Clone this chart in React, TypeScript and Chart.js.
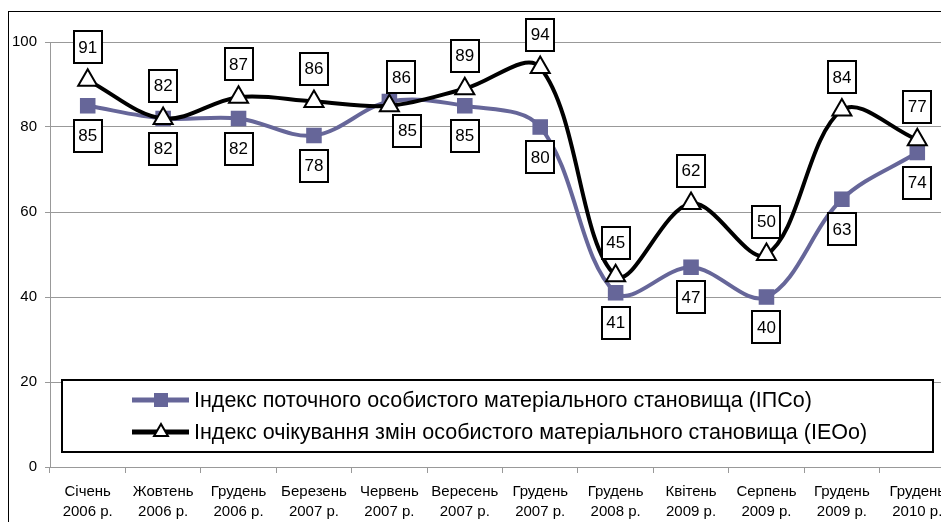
import React, { useEffect, useRef } from 'react';
import { Chart, registerables } from 'chart.js';

Chart.register(...registerables);

const categories: string[][] = [
  ['Січень', '2006 р.'],
  ['Жовтень', '2006 р.'],
  ['Грудень', '2006 р.'],
  ['Березень', '2007 р.'],
  ['Червень', '2007 р.'],
  ['Вересень', '2007 р.'],
  ['Грудень', '2007 р.'],
  ['Грудень', '2008 р.'],
  ['Квітень', '2009 р.'],
  ['Серпень', '2009 р.'],
  ['Грудень', '2009 р.'],
  ['Грудень', '2010 р.'],
];

const ipcoValues = [85, 82, 82, 78, 86, 85, 80, 41, 47, 40, 63, 74];
const ieooValues = [91, 82, 87, 86, 85, 89, 94, 45, 62, 50, 84, 77];

const yMin = 0;
const yMax = 100;
const yStep = 20;

const seriesNames = [
  'Індекс поточного особистого матеріального становища (ІПСо)',
  'Індекс очікування змін особистого матеріального становища (ІЕОо)',
];

const IPCO_COLOR = '#666699';
const IEOO_COLOR = '#000000';
const FONT = 'Arial, "Liberation Sans", sans-serif';

// label placement style (not data): which side of the point each value box sits on
const labelSides: string[][] = [
  ['b', 'b', 'b', 'b', 'a', 'b', 'b', 'b', 'b', 'b', 'b', 'b'],
  ['a', 'a', 'a', 'a', 'b', 'a', 'a', 'a', 'a', 'a', 'a', 'a'],
];
const labelNudge: Record<string, { dx: number; dy: number }> = {
  '0-4': { dx: 12, dy: -24.5 },
  '1-4': { dx: 18, dy: 25 },
};

const framePlugin = {
  id: 'frame',
  beforeDraw(chart: any) {
    const ctx = chart.ctx;
    ctx.save();
    ctx.fillStyle = '#ffffff';
    ctx.fillRect(0, 0, chart.width, chart.height);
    ctx.strokeStyle = '#000000';
    ctx.lineWidth = 1;
    ctx.strokeRect(0.5, 3.5, chart.width + 20, chart.height + 20);
    ctx.restore();
  },
};

const boxLabelPlugin = {
  id: 'boxLabels',
  afterDatasetsDraw(chart: any) {
    const ctx = chart.ctx;
    ctx.save();
    ctx.font = `17px ${FONT}`;
    ctx.textAlign = 'center';
    ctx.textBaseline = 'middle';
    chart.data.datasets.forEach((ds: any, di: number) => {
      const meta = chart.getDatasetMeta(di);
      meta.data.forEach((pt: any, i: number) => {
        const side = labelSides[di][i];
        let dx = 0;
        let dy = side === 'a' ? -33 : 30;
        const n = labelNudge[`${di}-${i}`];
        if (n) {
          dx = n.dx;
          dy = n.dy;
        }
        const x = pt.x + dx;
        const y = pt.y + dy;
        const text = String(ds.data[i]);
        const w = Math.round(ctx.measureText(text).width + 9);
        const h = 32;
        const lx = Math.round(x - w / 2);
        const ly = Math.round(y - h / 2);
        ctx.fillStyle = '#ffffff';
        ctx.fillRect(lx, ly, w, h);
        ctx.lineWidth = 2;
        ctx.strokeStyle = '#000000';
        ctx.strokeRect(lx, ly, w, h);
        ctx.fillStyle = '#000000';
        ctx.fillText(text, x, y + 1);
      });
    });
    ctx.restore();
  },
};

const legendPlugin = {
  id: 'boxLegend',
  afterDraw(chart: any) {
    const ctx = chart.ctx;
    ctx.save();
    const bx = 54;
    const by = 372;
    const bw = 871;
    const bh = 72;
    ctx.fillStyle = '#ffffff';
    ctx.fillRect(bx, by, bw, bh);
    ctx.lineWidth = 2;
    ctx.strokeStyle = '#000000';
    ctx.strokeRect(bx, by, bw, bh);

    const rows = [392, 424];
    const colors = [IPCO_COLOR, IEOO_COLOR];
    rows.forEach((ry, i) => {
      ctx.lineWidth = 5;
      ctx.strokeStyle = colors[i];
      ctx.beginPath();
      ctx.moveTo(124, ry);
      ctx.lineTo(181, ry);
      ctx.stroke();
      if (i === 0) {
        ctx.fillStyle = IPCO_COLOR;
        ctx.fillRect(146, ry - 7, 14, 14);
      } else {
        const r = 8;
        const cx = 153;
        const cy = ry;
        ctx.beginPath();
        ctx.moveTo(cx, cy - r);
        ctx.lineTo(cx + r * 0.866, cy + r * 0.5);
        ctx.lineTo(cx - r * 0.866, cy + r * 0.5);
        ctx.closePath();
        ctx.fillStyle = '#ffffff';
        ctx.fill();
        ctx.lineWidth = 2;
        ctx.strokeStyle = '#000000';
        ctx.stroke();
      }
      ctx.fillStyle = '#000000';
      ctx.font = `21.5px ${FONT}`;
      ctx.textAlign = 'left';
      ctx.textBaseline = 'middle';
      ctx.fillText(seriesNames[i], 186, ry + 1);
    });
    ctx.restore();
  },
};

export default function App() {
  const canvasRef = useRef<HTMLCanvasElement | null>(null);

  useEffect(() => {
    if (!canvasRef.current) return;
    const chart = new Chart(canvasRef.current, {
      type: 'line',
      data: {
        labels: categories,
        datasets: [
          {
            label: seriesNames[0],
            data: ipcoValues,
            borderColor: IPCO_COLOR,
            backgroundColor: IPCO_COLOR,
            borderWidth: 4,
            tension: 0.35,
            pointStyle: 'rect',
            pointRadius: 11,
            pointBorderWidth: 0,
            pointBackgroundColor: IPCO_COLOR,
            order: 1,
          },
          {
            label: seriesNames[1],
            data: ieooValues,
            borderColor: IEOO_COLOR,
            backgroundColor: '#ffffff',
            borderWidth: 4,
            tension: 0.35,
            pointStyle: 'triangle',
            pointRadius: 11,
            pointBorderWidth: 2,
            pointBorderColor: '#000000',
            pointBackgroundColor: '#ffffff',
            order: 0,
          },
        ],
      },
      options: {
        responsive: false,
        animation: false,
        events: [],
        layout: { padding: { top: 34, right: 8, left: 0, bottom: 0 } },
        plugins: {
          legend: { display: false },
          tooltip: { enabled: false },
          title: { display: false },
        },
        scales: {
          x: {
            offset: true,
            grid: {
              display: true,
              drawOnChartArea: false,
              drawTicks: true,
              tickLength: 6,
              offset: true,
              color: '#999999',
              lineWidth: 1,
            },
            border: { display: true, color: '#999999', width: 1 },
            ticks: {
              color: '#000000',
              font: { family: FONT, size: 15, lineHeight: 1.34 },
              padding: 9,
              maxRotation: 0,
              autoSkip: false,
            },
            afterFit(scale: any) {
              scale.height = 71;
            },
          },
          y: {
            min: yMin,
            max: yMax,
            grid: {
              color: '#999999',
              lineWidth: 1,
              tickLength: 5,
              drawTicks: true,
            },
            border: { display: true, color: '#999999', width: 1 },
            ticks: {
              stepSize: yStep,
              color: '#000000',
              font: { family: FONT, size: 15 },
              padding: 8,
            },
            afterFit(scale: any) {
              scale.width = 42;
            },
          },
        },
      },
      plugins: [framePlugin, boxLabelPlugin, legendPlugin],
    });
    return () => chart.destroy();
  }, []);

  return (
    <div style={{ width: 941, height: 514, overflow: 'hidden' }}>
      <canvas
        ref={canvasRef}
        width={960}
        height={530}
        style={{ display: 'block', width: 960, height: 530 }}
      />
    </div>
  );
}
